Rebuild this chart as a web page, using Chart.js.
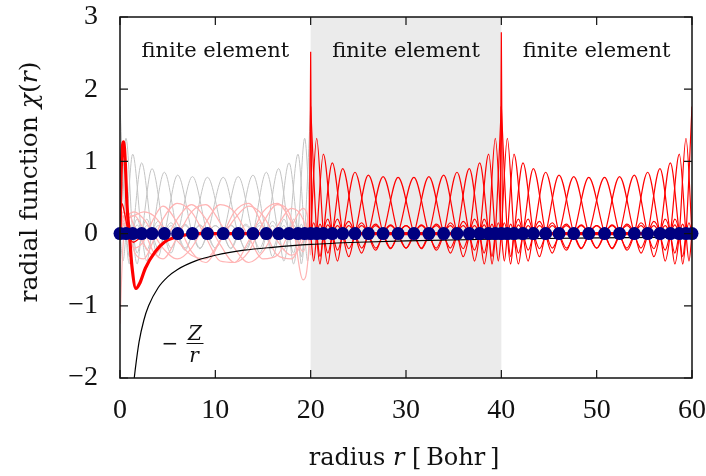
<!DOCTYPE html>
<html>
<head>
<meta charset="utf-8">
<script src="https://cdn.jsdelivr.net/npm/chart.js@4.4.1/dist/chart.umd.min.js"></script>
<style>
  html, body { margin: 0; padding: 0; background: #fff; }
  canvas { display: block; }
</style>
</head>
<body>
<canvas id="radialChart" width="706" height="476"></canvas>
<script>
// three finite elements, 20 Bohr each
var elementStarts = [0, 20, 40];
var elementNames = ["finite element", "finite element", "finite element"];

// nodes inside one element (Bohr, from the element start) and the basis function peaks
var nodes = [0, 0.63, 1.33, 2.27, 3.36, 4.65, 6.05, 7.6, 9.17, 10.83, 12.4, 13.95, 15.35, 16.64, 17.73, 18.67, 19.37, 20];
var peakHeights = [1.76, 1.32, 1.10, 0.98, 0.90, 0.85, 0.81, 0.79, 0.78, 0.78, 0.79, 0.81, 0.85, 0.90, 0.98, 1.10, 1.32, 1.76];
// side lobes of each basis function (first one negative, second one positive)
var firstLobe = [0.42, 0.42, 0.38, 0.32, 0.27, 0.23, 0.21, 0.2, 0.2, 0.2, 0.2, 0.21, 0.23, 0.27, 0.32, 0.38, 0.42, 0.42];
var secondLobe = [0.2, 0.2, 0.17, 0.15, 0.13, 0.12, 0.11, 0.11, 0.11, 0.11, 0.11, 0.11, 0.12, 0.13, 0.15, 0.17, 0.2, 0.2];

// bridge spikes at the inner element boundaries
var spikeR = [20, 40];
var spikeTop = [2.52, 2.79];

// radial function chi(r) (thick red) and a second, smaller one
var chiR = [0, 0.1, 0.22, 0.39, 0.55, 0.73, 0.98, 1.25, 1.68, 2.1, 2.66, 3.7, 4.75, 6.15, 8, 20, 40, 60];
var chiV = [0, 0.75, 1.15, 1.27, 1.0, 0.4, 0, -0.45, -0.76, -0.68, -0.48, -0.25, -0.11, -0.04, 0, 0, 0, 0];
var chi2R = [0, 0.2, 0.45, 0.9, 1.4, 2.2, 3.5];
var chi2V = [0, 0.42, 0.3, 0, -0.12, -0.05, 0];

// pale curves in the first element
var pinkR = [0, 0.3, 0.8, 1.5, 2.5, 3.5, 4.5, 6, 7.5, 9, 10.5, 12, 13.5, 15, 16.5, 18, 19.2, 19.8, 20];
var pinkCurves = [
  [0, 0.30, 0.10, -0.25, -0.35, -0.10, 0.20, 0.42, 0.30, -0.05, -0.38, -0.40, -0.10, 0.30, 0.42, 0.15, -0.25, 0.30, 1.0],
  [0, 0.25, 0.05, -0.20, -0.10, 0.20, 0.38, 0.15, -0.25, -0.40, -0.10, 0.30, 0.42, 0.10, -0.30, -0.35, 0.0, 0.40, 1.3],
  [-1.25, -0.2, 0.20, 0.25, 0.05, -0.25, -0.35, -0.05, 0.30, 0.40, 0.15, -0.20, -0.40, -0.25, 0.10, 0.35, 0.20, -0.10, 0.5],
  [0, 0.20, 0.30, 0.10, -0.15, -0.30, -0.15, 0.20, 0.40, 0.20, -0.15, -0.40, -0.25, 0.15, 0.40, 0.20, -0.64, -0.20, 0.8],
  [0, 0.15, 0.25, 0.30, 0.20, 0.0, -0.20, -0.35, -0.20, 0.15, 0.40, 0.30, -0.05, -0.35, -0.30, 0.10, 0.35, 0.10, -0.3],
  [0, 0.10, 0.20, 0.25, 0.30, 0.25, 0.10, -0.10, -0.30, -0.35, -0.10, 0.20, 0.38, 0.25, -0.10, -0.30, -0.10, 0.20, 0.6]
];

// potential -Z/r
var potR = [1.45, 1.6, 2, 2.5, 3, 4, 5, 6, 8, 10, 13, 16, 20, 25, 30, 40, 50, 60];
var potV = [-2.05, -1.88, -1.5, -1.2, -1.0, -0.75, -0.6, -0.5, -0.375, -0.3, -0.23, -0.19, -0.15, -0.12, -0.1, -0.075, -0.06, -0.05];

var xTicks = [0, 10, 20, 30, 40, 50, 60];
var yTicks = [-2, -1, 0, 1, 2, 3];

function pairs(xs, ys) {
  var out = [];
  for (var i = 0; i < xs.length; i++) out.push({x: xs[i], y: ys[i]});
  return out;
}

function basisLine(start, k) {
  var pts = [];
  var last = nodes.length - 1;
  function at(j) { return start + nodes[j]; }
  function mid(j) { return start + (nodes[j] + nodes[j + 1]) / 2; }
  if (k - 3 >= 0) { pts.push({x: at(k - 3), y: 0}); pts.push({x: mid(k - 3), y: secondLobe[k]}); }
  if (k - 2 >= 0) { pts.push({x: at(k - 2), y: 0}); pts.push({x: mid(k - 2), y: -firstLobe[k]}); }
  if (k - 1 >= 0) pts.push({x: at(k - 1), y: 0});
  pts.push({x: at(k), y: peakHeights[k]});
  if (k + 1 <= last) pts.push({x: at(k + 1), y: 0});
  if (k + 2 <= last) { pts.push({x: mid(k + 1), y: -firstLobe[k]}); pts.push({x: at(k + 2), y: 0}); }
  if (k + 3 <= last) { pts.push({x: mid(k + 2), y: secondLobe[k]}); pts.push({x: at(k + 3), y: 0}); }
  return pts;
}

var datasets = [];

// basis functions: grey in the first element, red in the others
for (var e = 0; e < elementStarts.length; e++) {
  for (var k = 0; k < nodes.length; k++) {
    datasets.push({
      data: basisLine(elementStarts[e], k),
      borderColor: e === 0 ? '#c4c4c4' : '#ff0000',
      borderWidth: e === 0 ? 1 : 1.2,
      order: e === 0 ? 8 : 5
    });
  }
}

for (var s = 0; s < spikeR.length; s++) {
  datasets.push({
    data: [{x: spikeR[s] - 0.12, y: 0}, {x: spikeR[s], y: spikeTop[s]}, {x: spikeR[s] + 0.12, y: 0}],
    borderColor: '#ff0000',
    borderWidth: 1.2,
    cubicInterpolationMode: 'default',
    tension: 0,
    order: 4
  });
}

for (var p = 0; p < pinkCurves.length; p++) {
  datasets.push({
    data: pairs(pinkR, pinkCurves[p]),
    borderColor: '#ffb4b4',
    borderWidth: 1.2,
    order: 7
  });
}

datasets.push({ data: pairs(chi2R, chi2V), borderColor: '#ff0000', borderWidth: 1.3, order: 3 });
datasets.push({ data: pairs(chiR, chiV), borderColor: '#ff0000', borderWidth: 3.2, order: 2 });
datasets.push({ data: pairs(potR, potV), borderColor: '#000000', borderWidth: 1.2, order: 1 });

var dotPts = [];
elementStarts.forEach(function (start, e) {
  nodes.forEach(function (n, j) {
    if (e > 0 && j === 0) return;
    dotPts.push({x: start + n, y: 0});
  });
});
datasets.push({
  data: dotPts,
  showLine: false,
  pointRadius: 6.5,
  pointBackgroundColor: '#000080',
  pointBorderColor: '#000080',
  pointBorderWidth: 0,
  clip: false,
  order: 0
});

function drawParts(ctx, parts, cx, y) {
  var total = 0;
  parts.forEach(function (pt) { ctx.font = pt[1]; total += ctx.measureText(pt[0]).width; });
  var x = cx - total / 2;
  parts.forEach(function (pt) {
    ctx.font = pt[1];
    ctx.fillText(pt[0], x, y);
    x += ctx.measureText(pt[0]).width;
  });
}

var decor = {
  id: 'decor',
  beforeDatasetsDraw: function (chart) {
    var a = chart.chartArea, xs = chart.scales.x, ctx = chart.ctx;
    var x1 = xs.getPixelForValue(20), x2 = xs.getPixelForValue(40);
    ctx.save();
    ctx.fillStyle = '#ebebeb';
    ctx.fillRect(x1, a.top, x2 - x1, a.bottom - a.top);
    ctx.restore();
  },
  afterDraw: function (chart) {
    var a = chart.chartArea, xs = chart.scales.x, ys = chart.scales.y, ctx = chart.ctx;
    ctx.save();
    ctx.strokeStyle = '#111';
    ctx.lineWidth = 1.5;
    ctx.strokeRect(a.left, a.top, a.right - a.left, a.bottom - a.top);
    ctx.lineWidth = 1.2;
    ctx.beginPath();
    xTicks.forEach(function (v) {
      var px = xs.getPixelForValue(v);
      ctx.moveTo(px, a.bottom); ctx.lineTo(px, a.bottom - 8);
      ctx.moveTo(px, a.top); ctx.lineTo(px, a.top + 8);
    });
    yTicks.forEach(function (v) {
      var py = ys.getPixelForValue(v);
      ctx.moveTo(a.left, py); ctx.lineTo(a.left + 8, py);
      ctx.moveTo(a.right, py); ctx.lineTo(a.right - 8, py);
    });
    ctx.stroke();

    ctx.fillStyle = '#111';
    ctx.textBaseline = 'alphabetic';
    ctx.textAlign = 'center';
    ctx.font = '21px "DejaVu Serif"';
    elementStarts.forEach(function (start, i) {
      ctx.fillText(elementNames[i], xs.getPixelForValue(start + 10), 57);
    });

    ctx.textAlign = 'left';
    var rm = '24px "DejaVu Serif"', it = 'italic 24px "DejaVu Serif"';
    drawParts(ctx, [['radius ', rm], ['r', it], [' [\u2009Bohr\u2009]', rm]], 404, 465);

    var rmY = '25px "DejaVu Serif"', itY = 'italic 25px "DejaVu Serif"';
    ctx.save();
    ctx.translate(37, 182);
    ctx.rotate(-Math.PI / 2);
    drawParts(ctx, [['radial function ', rmY], ['\u03c7', itY], ['(', rmY], ['r', itY], [')', rmY]], 0, 0);
    ctx.restore();

    // -Z/r label
    ctx.font = '20px "DejaVu Serif"';
    ctx.textAlign = 'center';
    ctx.fillText('\u2212', 170, 350);
    ctx.font = 'italic 20px "DejaVu Serif"';
    ctx.fillText('Z', 195, 340);
    ctx.fillText('r', 194, 362);
    ctx.lineWidth = 1;
    ctx.beginPath();
    ctx.moveTo(186.5, 343.5); ctx.lineTo(203.5, 343.5);
    ctx.stroke();
    ctx.restore();
  }
};

var canvas = document.getElementById('radialChart');
var ctx = canvas.getContext('2d');

var chart = new Chart(ctx, {
  type: 'scatter',
  data: { datasets: datasets },
  options: {
    responsive: false,
    animation: false,
    events: [],
    layout: { padding: { top: 17, right: 14, left: 0, bottom: 0 } },
    elements: {
      point: { radius: 0, hoverRadius: 0 },
      line: { cubicInterpolationMode: 'monotone', fill: false }
    },
    datasets: { scatter: { showLine: true } },
    plugins: { legend: { display: false }, tooltip: { enabled: false } },
    scales: {
      x: {
        type: 'linear', min: 0, max: 60,
        grid: { display: false }, border: { display: false },
        afterFit: function (scale) {
          scale.height = 98;
          scale.paddingLeft = 0; scale.paddingRight = 0;
        },
        afterBuildTicks: function (scale) { scale.ticks = xTicks.map(function (v) { return {value: v}; }); },
        ticks: { color: '#111', padding: 8, maxRotation: 0, font: { family: '"Liberation Serif"', size: 28 } }
      },
      y: {
        type: 'linear', min: -2, max: 3,
        grid: { display: false }, border: { display: false },
        afterFit: function (scale) {
          scale.width = 120;
          scale.paddingTop = 0; scale.paddingBottom = 0;
        },
        afterBuildTicks: function (scale) { scale.ticks = yTicks.map(function (v) { return {value: v}; }); },
        ticks: {
          color: '#111', padding: 14, font: { family: '"Liberation Serif"', size: 28 },
          callback: function (v) { return v < 0 ? '\u2212' + Math.abs(v) : String(v); }
        }
      }
    }
  },
  plugins: [decor]
});
</script>
</body>
</html>
